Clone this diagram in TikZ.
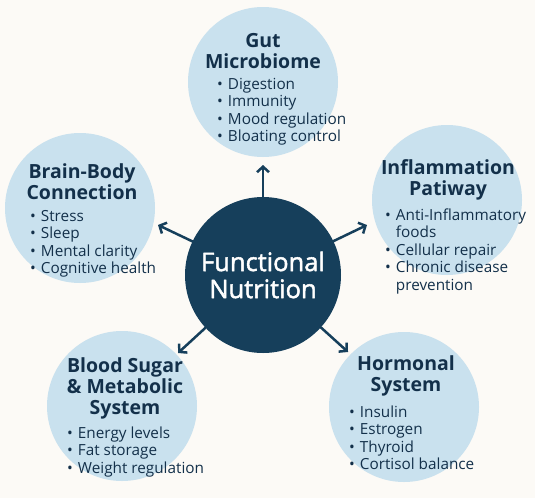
\documentclass[tikz,border=0pt]{standalone}
\usepackage{fontspec}
\setmainfont{Open Sans}
\newfontfamily\hubfont[FakeBold=1.8]{Open Sans}
\usetikzlibrary{%
  arrows.meta,%
  positioning%
}
\definecolor{paper}{HTML}{FCFAF6}
\definecolor{bubblefill}{HTML}{C9E1EE}
\definecolor{navy}{HTML}{163F5B}
\definecolor{ink}{HTML}{13304A}

\newcommand{\itemlist}[1]{\begin{tabular}[t]{@{}l@{\hspace{5pt}}l@{}}#1\end{tabular}}
\newcommand{\bul}{\textbullet}

\begin{document}
\begin{tikzpicture}[
    x=1pt,y=-1pt,
    >={Straight Barb[length=5.5pt,width=12pt]},
    line cap=round,line join=round,
    bubble/.style={circle,fill=bubblefill,minimum size=150pt,inner sep=0pt},
    hub/.style={circle,fill=navy,minimum size=156pt,inner sep=0pt,
        text=white,align=center,font=\hubfont\fontsize{25.5}{27}\selectfont},
    title/.style={text=ink,align=center,inner sep=0pt,
        font=\bfseries\fontsize{19.5}{21}\selectfont},
    items/.style={text=ink,anchor=base west,inner sep=0pt,
        font=\fontsize{15.3}{17.5}\selectfont},
    spoke/.style={->,draw=navy,line width=2.5pt}
  ]

    \fill[paper] (0,0) rectangle (535,498);
    \useasboundingbox (0,0) rectangle (535,498);

    % the five topic bubbles
    \node[bubble] (gut)    at (263,82)  {};
    \node[bubble] (brain)  at (80,208)  {};
    \node[bubble] (inflam) at (447,200) {};
    \node[bubble] (sugar)  at (122,406) {};
    \node[bubble] (hormon) at (404,407) {};

    \node[hub] (hub) at (263,275) {Functional\\Nutrition};

    % arrow tips
    \coordinate (tipN)  at (263,165);
    \coordinate (tipNW) at (158,225);
    \coordinate (tipNE) at (367,225);
    \coordinate (tipSW) at (178,353);
    \coordinate (tipSE) at (348,352);

    \draw[spoke] (hub) -- (tipN);
    \draw[spoke] (hub) -- (tipNW);
    \draw[spoke] (hub) -- (tipNE);
    \draw[spoke] (hub) -- (tipSW);
    \draw[spoke] (hub) -- (tipSE);

    \node[title] (gutT) at (263,51) {Gut\\Microbiome};
    \node[items] (gutL) at (217,89) {\itemlist{%
        \bul & Digestion\\ \bul & Immunity\\
        \bul & Mood regulation\\ \bul & Bloating control}};

    \node[title] (brainT) at (82,182) {Brain-Body\\Connection};
    \node[items] (brainL) at (30,221) {\itemlist{%
        \bul & Stress\\ \bul & Sleep\\
        \bul & Mental clarity\\ \bul & Cognitive health}};

    \node[title] (inflamT) at (448,180) {Inflammation\\Patiway};
    \node[items] (inflamL) at (385,220) {\itemlist{%
        \bul & Anti-Inflammatory\\ & foods\\ \bul & Cellular repair\\
        \bul & Chronic disease\\ & prevention}};

    \node[title] (sugarT) at (125,388) {Blood Sugar\\\& Metabolic\\System};
    \node[items] (sugarL) at (67,438) {\itemlist{%
        \bul & Energy levels\\ \bul & Fat storage\\
        \bul & Weight regulation}};

    \node[title] (hormonT) at (406,376) {Hormonal\\System};
    \node[items] (hormonL) at (349,417) {\itemlist{%
        \bul & Insulin\\ \bul & Estrogen\\
        \bul & Thyroid\\ \bul & Cortisol balance}};
\end{tikzpicture}
\end{document}
